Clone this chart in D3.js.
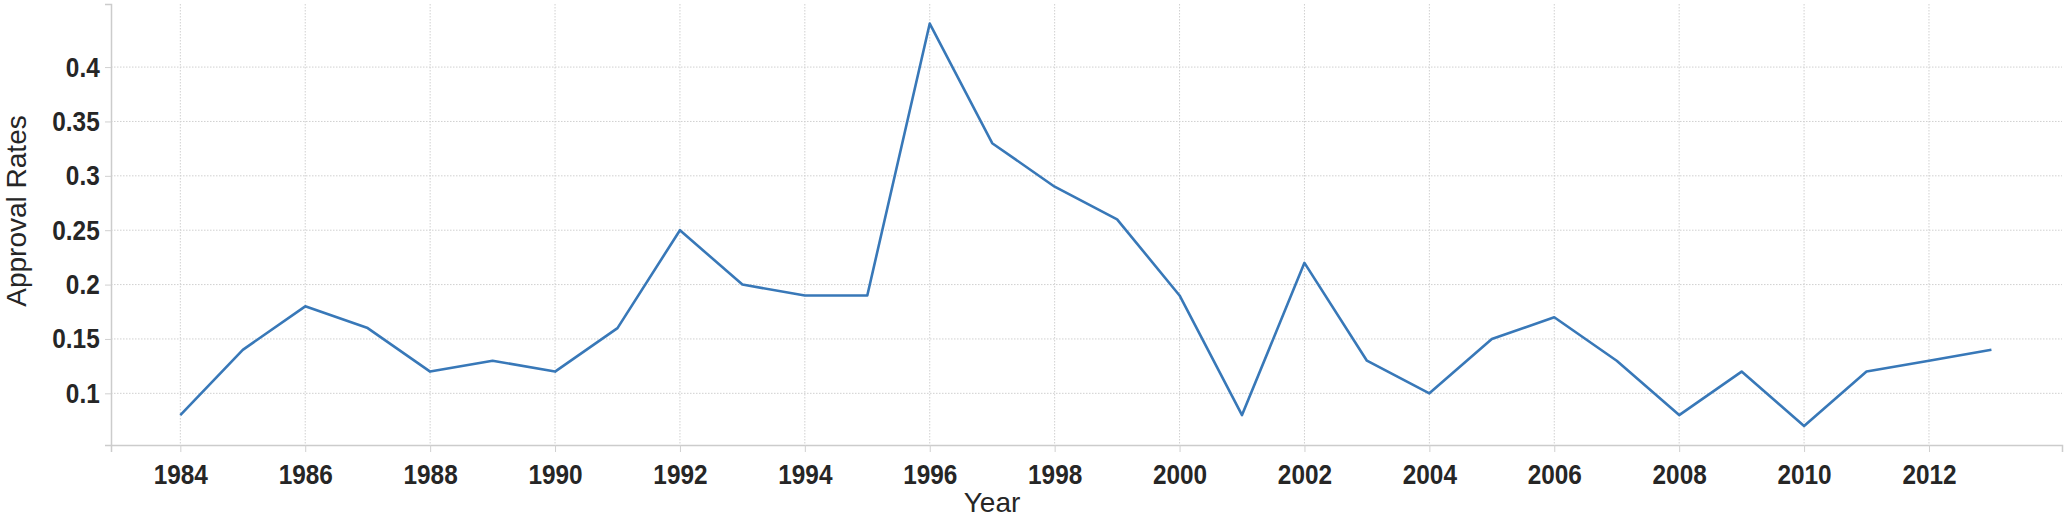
<!DOCTYPE html>
<html>
<head>
<meta charset="utf-8">
<script src="https://cdn.jsdelivr.net/npm/d3@7"></script>
<style>
  body { margin: 0; background: #fff; }
  svg { display: block; font-family: "Liberation Sans", Arial, sans-serif; }
</style>
</head>
<body>
<div id="chart"></div>
<script>
// approval rate per year
const years = [1984, 1985, 1986, 1987, 1988, 1989, 1990, 1991, 1992, 1993,
               1994, 1995, 1996, 1997, 1998, 1999, 2000, 2001, 2002, 2003,
               2004, 2005, 2006, 2007, 2008, 2009, 2010, 2011, 2012, 2013];
const rates = [0.08, 0.14, 0.18, 0.16, 0.12, 0.13, 0.12, 0.16, 0.25, 0.20,
               0.19, 0.19, 0.44, 0.33, 0.29, 0.26, 0.19, 0.08, 0.22, 0.13,
               0.10, 0.15, 0.17, 0.13, 0.08, 0.12, 0.07, 0.12, 0.13, 0.14];
const xTicks = [1984, 1986, 1988, 1990, 1992, 1994, 1996, 1998, 2000, 2002, 2004, 2006, 2008, 2010, 2012];
const yTicks = [0.1, 0.15, 0.2, 0.25, 0.3, 0.35, 0.4];

const W = 2065, H = 519;
const m = {left: 111, right: 3, top: 4, bottom: 74};

const svg = d3.select('#chart').append('svg')
  .attr('width', W)
  .attr('height', H);

const x = d3.scaleLinear().domain([1982.89, 2014.13]).range([m.left, W - m.right]);
const y = d3.scaleLinear().domain([0.0525, 0.458]).range([H - m.bottom, m.top]);

const data = years.map((d, i) => ({year: d, rate: rates[i]}));

// gridlines
svg.append('g')
  .selectAll('line')
  .data(xTicks)
  .join('line')
  .attr('x1', d => x(d)).attr('x2', d => x(d))
  .attr('y1', m.top).attr('y2', H - m.bottom)
  .attr('stroke', '#d0d0d0')
  .attr('stroke-dasharray', '1.5,1.5');

svg.append('g')
  .selectAll('line')
  .data(yTicks)
  .join('line')
  .attr('x1', m.left).attr('x2', W - m.right)
  .attr('y1', d => y(d)).attr('y2', d => y(d))
  .attr('stroke', '#d0d0d0')
  .attr('stroke-dasharray', '1.5,1.5');

// axes
const xAxis = svg.append('g')
  .attr('transform', 'translate(0,' + (H - m.bottom) + ')')
  .call(d3.axisBottom(x).tickValues(xTicks).tickFormat(d3.format('d')).tickSizeOuter(0).tickSize(7).tickPadding(12));

const yAxis = svg.append('g')
  .attr('transform', 'translate(' + m.left + ',0)')
  .call(d3.axisLeft(y).tickValues(yTicks).tickFormat(d => String(d)).tickSizeOuter(0).tickSize(6).tickPadding(7));

[xAxis, yAxis].forEach(a => {
  a.select('.domain').attr('stroke', '#cccccc').attr('stroke-width', 1.5);
  a.selectAll('.tick line').attr('stroke', '#d0d0d0');
  a.selectAll('.tick text')
    .attr('fill', '#262626')
    .attr('font-size', 28)
    .attr('font-weight', 'bold')
    .attr('font-family', '"Liberation Sans", Arial, sans-serif')
    .attr('transform', 'scale(0.87,1)');
});

// the line
const line = d3.line().x(d => x(d.year)).y(d => y(d.rate));
svg.append('path')
  .datum(data)
  .attr('d', line)
  .attr('fill', 'none')
  .attr('stroke', '#3878b8')
  .attr('stroke-width', 2.6)
  .attr('stroke-linejoin', 'round');

// labels
svg.append('text')
  .attr('x', 992).attr('y', 512)
  .attr('text-anchor', 'middle')
  .attr('font-size', 28)
  .attr('fill', '#262626')
  .text('Year');

svg.append('text')
  .attr('transform', 'translate(26,211) rotate(-90)')
  .attr('text-anchor', 'middle')
  .attr('font-size', 28)
  .attr('fill', '#262626')
  .text('Approval Rates');
</script>
</body>
</html>
